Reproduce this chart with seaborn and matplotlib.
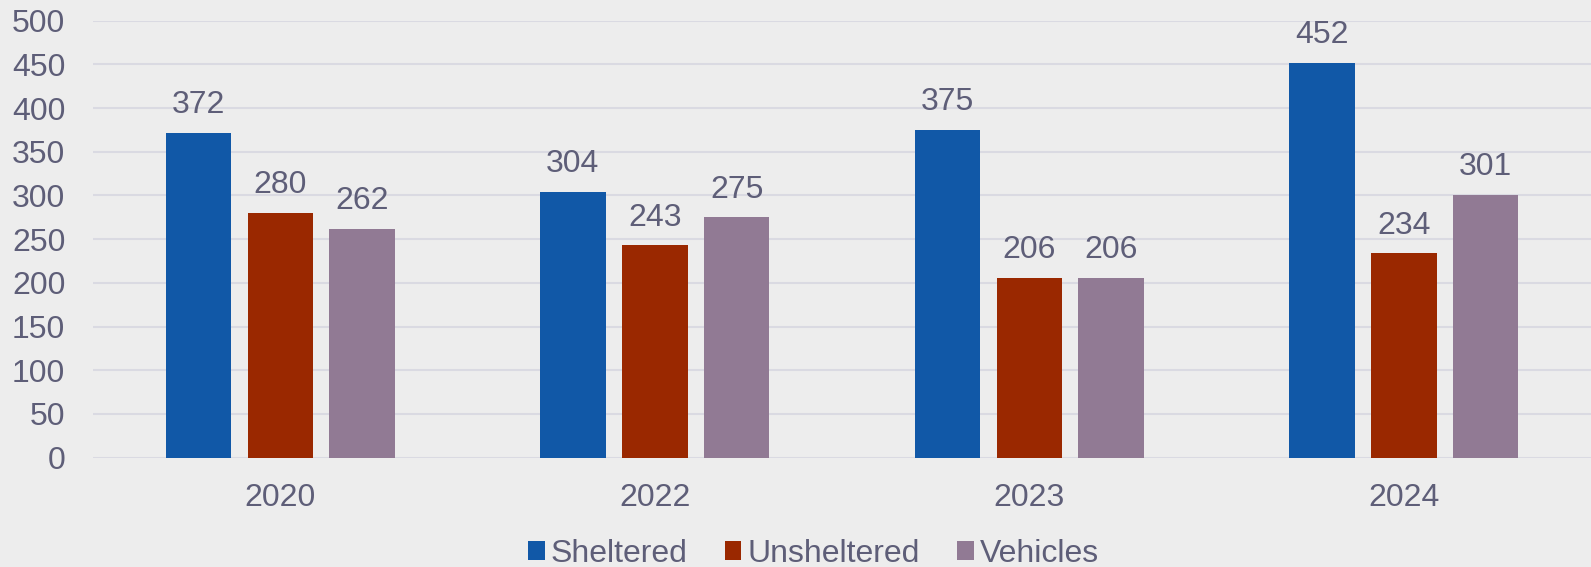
import matplotlib
matplotlib.use("Agg")
import matplotlib.pyplot as plt
import seaborn as sns
import pandas as pd

years = ["2020", "2022", "2023", "2024"]
series = ["Sheltered", "Unsheltered", "Vehicles"]
sheltered = [372, 304, 375, 452]
unsheltered = [280, 243, 206, 234]
vehicles = [262, 275, 206, 301]
colors = ["#1158A7", "#9A2800", "#917A94"]

rows = []
for name, vals in zip(series, [sheltered, unsheltered, vehicles]):
    for y, v in zip(years, vals):
        rows.append({"Year": y, "Series": name, "Value": v})
df = pd.DataFrame(rows)

sns.set_theme(style="white")
plt.rcParams["font.family"] = ["Liberation Sans", "DejaVu Sans"]
bg = "#EDEDED"
txt = "#5E5E78"
fs = 23

fig = plt.figure(figsize=(15.91, 5.67), dpi=100, facecolor=bg)
ax = fig.add_axes([0.0585, 0.1928, 0.9415, 0.7707])
ax.set_facecolor(bg)

sns.barplot(data=df, x="Year", y="Value", hue="Series", hue_order=series,
            palette=colors, width=0.656, gap=0.2, ax=ax, linewidth=0,
            saturation=1, errorbar=None, order=years)

for c in ax.containers:
    ax.bar_label(c, padding=9, fontsize=fs, color=txt)

ax.set_ylim(0, 500)
ax.set_yticks(range(0, 501, 50))
ax.set_xlim(-0.5, 3.5)
ax.yaxis.grid(True, color="#DADAE2", linewidth=1.5)
ax.set_axisbelow(True)
for s in ax.spines.values():
    s.set_visible(False)
ax.tick_params(axis="y", length=0, pad=20, labelsize=fs, labelcolor=txt)
ax.tick_params(axis="x", length=0, pad=18.5, labelsize=fs, labelcolor=txt)
ax.set_xlabel("")
ax.set_ylabel("")

handles, labels = ax.get_legend_handles_labels()
ax.get_legend().remove()
leg = fig.legend(handles, labels, loc="center", bbox_to_anchor=(0.5113, 0.0232),
                 ncol=3, frameon=False, fontsize=fs, handlelength=0.53,
                 handleheight=0.53, handletextpad=0.2, columnspacing=1.15,
                 borderpad=0, borderaxespad=0)
for t in leg.get_texts():
    t.set_color(txt)

fig.savefig("out.png", dpi=100, facecolor=bg)
